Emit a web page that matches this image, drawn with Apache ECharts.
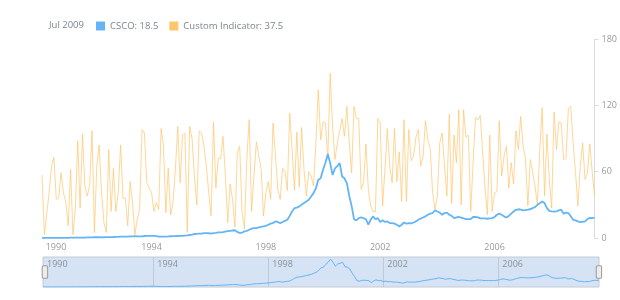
<!DOCTYPE html>
<html><head><meta charset="utf-8">
<script src="https://cdn.jsdelivr.net/npm/echarts@6/dist/echarts.min.js"></script>
<style>html,body{margin:0;padding:0;background:#fff}#c{width:620px;height:300px}</style>
</head><body><div id="c"></div>
<script>
// Monthly data, Mar 1990 .. Jul 2009
const startYear = 1990, startMonth = 3;
const csco = [
0.08,0.1,0.11,0.12,0.12,0.11,0.1,0.1,0.12,0.14,
0.17,0.2,0.25,0.3,0.3,0.32,0.35,0.38,0.42,0.5,0.55,0.6,
0.7,0.75,0.7,0.65,0.7,0.75,0.8,0.85,0.9,1.0,1.1,1.2,
1.3,1.25,1.3,1.4,1.5,1.6,1.5,1.4,1.55,1.8,1.9,2.0,
2.0,1.9,1.6,1.3,1.3,1.2,1.3,1.4,1.6,1.7,1.7,1.8,
1.9,2.0,2.2,2.4,2.7,3.0,3.6,3.8,3.9,4.0,4.4,4.5,
4.3,4.0,4.4,4.6,5.0,5.0,5.3,5.8,6.2,6.5,6.8,7.0,
5.5,4.5,4.8,6,6.5,7.5,8.5,9,9,9.5,10,10.5,
11,12,13,13.5,15,14.5,13.5,14.5,15.5,16.5,20,24,
27,27.5,28.6,30,31.6,33,34.6,37.6,40.6,45,52.6,54,
61.7,68,76,67.7,57,63,65,67.7,55.7,54,49.6,38,
29,17,16,18,18.6,18,17,12,16.5,19.6,17,18,
14.5,16,14.5,15,13.5,13.5,13,12,10.5,12,14,13,
13.5,13.2,14,15,16.5,17.5,18.5,19.6,21,22,22.6,25,
24,23,21,22.6,23,21,20,18,18.6,19,18.5,17.7,
17,17,17,19,19,18.6,17.7,17.7,17.7,17.4,17.7,18,
19,21,22,21,19.6,18.5,20,22,24,25.5,26,25.6,
25,25.3,25.6,26,27,28,30,31.5,33,31.6,27,24.5,
24,23.8,24,25,25.6,22,23,22.6,19.6,16.5,16,15,
14.4,14.7,15,17,18.3,18,18.5
];
const indicator = [
57,3,22,41,65,73,35,36,59,41,32,11,62,3,26,88,27,94,47,38,47,97,5,65,84,41,14,5,80,24,63,24,41,84,36,36,11,51,32,
3,17,26,98,95,50,45,41,24,32,26,99,84,23,63,21,32,62,101,50,93,95,5,101,90,56,30,97,95,83,65,41,20,105,45,72,72,92,56,
14,49,35,10,77,83,23,8,72,107,24,56,87,74,63,20,41,51,35,104,75,44,35,63,61,43,113,81,43,96,46,100,62,38,60,56,47,86,134,
89,105,104,71,149,101,71,86,97,108,92,119,86,59,119,108,108,44,50,85,44,29,24,24,108,104,29,62,99,65,50,99,51,78,33,107,33,98,70,
74,91,98,65,74,106,89,81,41,26,38,86,95,65,38,112,31,93,68,116,30,116,91,93,24,68,109,107,111,78,45,21,93,24,41,42,106,56,74,
83,45,68,49,97,80,110,83,72,29,71,60,47,30,80,118,38,94,53,27,114,80,105,104,71,72,117,119,86,59,29,65,86,53,59,85,60,37.5
];
const tickYears = ['1990','1994','1998','2002','2006'];
const yTicks = [0, 60, 120, 180];
const periodLabel = 'Jul 2009';
const seriesNames = ['CSCO', 'Custom Indicator'];

const months = csco.map((_, i) => {
  const t = startMonth - 1 + i;
  return (startYear + Math.floor(t / 12)) + '-' + String(t % 12 + 1).padStart(2, '0');
});
const isTick = (idx, val) => idx === 0 || (val.slice(5) === '01' && tickYears.includes(val.slice(0, 4)));
const isGridLine = (idx, val) => idx !== 0 && val.slice(5) === '01' && tickYears.includes(val.slice(0, 4));
const lastVal = { 'CSCO': csco[csco.length - 1], 'Custom Indicator': indicator[indicator.length - 1] };

const FONT = 'Open Sans';
const chart = echarts.init(document.getElementById('c'), null, { renderer: 'canvas' });
chart.setOption({
  animation: false,
  textStyle: { fontFamily: FONT },
  title: { text: periodLabel, left: 49, top: 20, padding: 0, textStyle: { fontSize: 9.5, fontWeight: 'normal', color: '#7c868e', fontFamily: FONT } },
  legend: {
    left: 96, top: 21, padding: 0, itemWidth: 9, itemHeight: 9, itemGap: 11, icon: 'rect',
    data: seriesNames,
    formatter: n => n + ': ' + lastVal[n],
    textStyle: { fontSize: 9.5, color: '#7c868e', fontFamily: FONT }
  },
  grid: [
    { left: 42, right: 20, top: 39, bottom: 62 },
    { left: 43, right: 21, top: 257, height: 30, show: true, backgroundColor: '#d5e3f5', borderColor: '#c4ccd6', borderWidth: 1 }
  ],
  xAxis: [
    { type: 'category', data: months, boundaryGap: false,
      axisLine: { show: false }, axisTick: { show: false },
      axisLabel: { interval: isTick, color: '#9a9a9a', fontSize: 9, margin: 5, fontFamily: FONT,
        formatter: (v, i) => i === 0 ? '{a|' + v.slice(0, 4) + '}' : v.slice(0, 4),
        rich: { a: { padding: [0, 0, 0, 28], fontSize: 9, color: '#9a9a9a', fontFamily: FONT } } } },
    { gridIndex: 1, type: 'category', data: months, boundaryGap: false, position: 'top',
      axisLine: { show: false }, axisTick: { show: false, interval: isGridLine },
      axisLabel: { inside: true, interval: isTick, formatter: v => v.slice(0, 4), align: 'left',
        padding: [0, 0, 0, 4], color: '#8a9098', fontSize: 9, margin: 3, fontFamily: FONT },
      splitLine: { show: true, interval: isGridLine, lineStyle: { color: '#bfc8d3', width: 1 } } }
  ],
  yAxis: [
    { type: 'value', position: 'right', min: yTicks[0], max: yTicks[yTicks.length - 1], interval: 60,
      axisLine: { show: true, lineStyle: { color: '#dcdcdc' } },
      axisTick: { show: true, length: 4, lineStyle: { color: '#dcdcdc' } },
      splitLine: { show: false },
      axisLabel: { color: '#9a9a9a', fontSize: 9, margin: 7, fontFamily: FONT } },
    { gridIndex: 1, type: 'value', min: 0, max: 82, show: false }
  ],
  dataZoom: [{
    type: 'slider', xAxisIndex: 0, left: 43, right: 21, top: 257, height: 30, start: 0, end: 100,
    showDetail: false, showDataShadow: false, brushSelect: false, moveHandleSize: 0,
    backgroundColor: 'rgba(0,0,0,0)', fillerColor: 'rgba(0,0,0,0)', borderColor: 'rgba(0,0,0,0)',
    handleIcon: 'path://M1.5,0h3a1.5,1.5,0,0,1,1.5,1.5v11a1.5,1.5,0,0,1-1.5,1.5h-3a1.5,1.5,0,0,1-1.5-1.5v-11a1.5,1.5,0,0,1,1.5-1.5Z',
    handleSize: '42%', handleStyle: { color: '#ececec', borderColor: '#9a9a9a', borderWidth: 1 }
  }],
  series: [
    { name: 'CSCO', type: 'line', data: csco, showSymbol: false, z: 3,
      lineStyle: { width: 1.8, color: '#64b5f6' }, itemStyle: { color: '#64b5f6' } },
    { name: 'Custom Indicator', type: 'line', data: indicator, showSymbol: false, z: 2,
      lineStyle: { width: 1, color: '#ffc46b', opacity: 0.7 }, itemStyle: { color: '#ffc66d' } },
    { name: 'nav', type: 'line', xAxisIndex: 1, yAxisIndex: 1, data: csco, showSymbol: false, silent: true,
      lineStyle: { width: 1, color: '#64b5f6' }, itemStyle: { color: '#64b5f6' } }
  ]
});
</script></body></html>
